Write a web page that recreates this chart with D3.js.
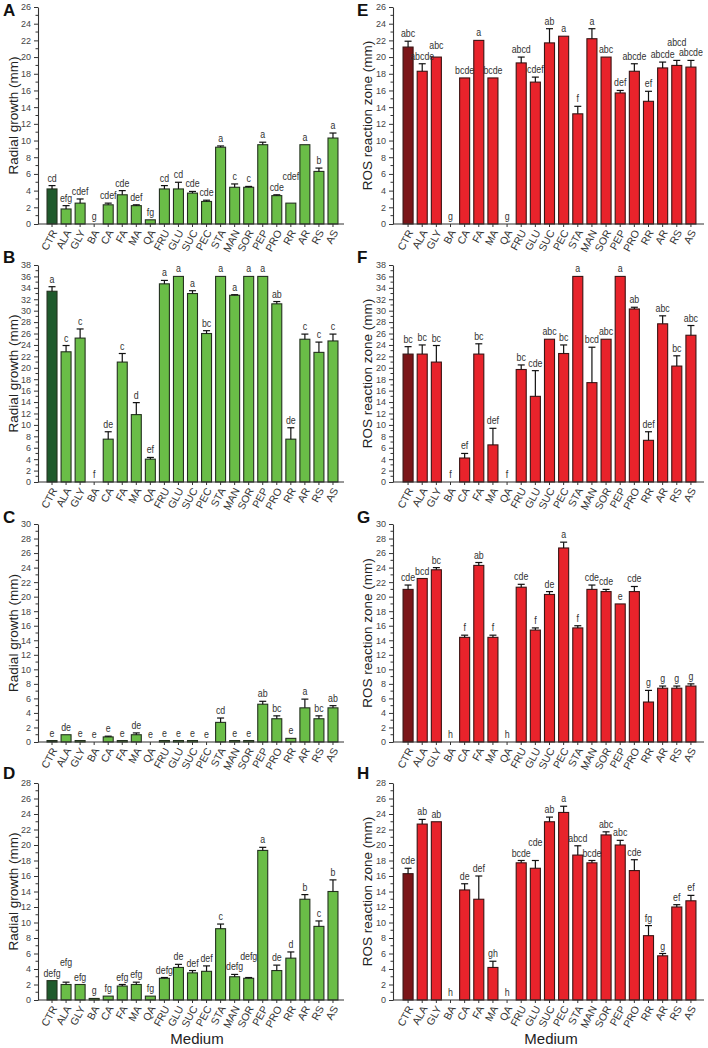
<!DOCTYPE html>
<html>
<head>
<meta charset="utf-8">
<script src="https://cdn.jsdelivr.net/npm/d3@7"></script>
<style>
html,body{margin:0;padding:0;background:#fff;}
svg{display:block;font-family:"Liberation Sans",Arial,Helvetica,sans-serif;}
</style>
</head>
<body>
<svg id="chart" width="708" height="1048"></svg>
<script>
const categories = ["CTR","ALA","GLY","BA","CA","FA","MA","QA","FRU","GLU","SUC","PEC","STA","MAN","SOR","PEP","PRO","RR","AR","RS","AS"];

// Panel A – radial growth
const valuesA = [4.2,1.8,2.5,0,2.3,3.5,2.2,0.5,4.2,4.2,3.7,2.7,9.2,4.4,4.4,9.5,3.4,2.5,9.5,6.3,10.3];
const errorsA = [4.6,2.2,3.0,0,2.5,4.0,2.3,0.5,4.6,5.0,3.9,2.85,9.35,4.8,4.5,9.8,3.5,2.5,9.5,6.7,10.9];
const lettersA = ["cd","efg","cdef","g","cdef","cde","def","fg","cd","cd","cde","cde","a","c","c","a","cde","cdef","a","b","a"];

// Panel B – radial growth
const valuesB = [33.4,22.8,25.2,0,7.5,21.0,11.8,4.0,34.7,36,33.0,26.0,36,32.7,36,36,31.2,7.5,25.0,22.7,24.7];
const errorsB = [34.2,23.9,26.8,0,8.8,22.5,13.9,4.3,35.3,36,33.5,26.5,36,32.8,36,36,31.6,9.5,25.9,24.5,25.9];
const lettersB = ["a","c","c","f","de","c","d","ef","a","a","a","bc","a","a","a","a","ab","de","c","c","c"];

// Panel C – radial growth
const valuesC = [0.2,1.0,0.2,0,0.7,0.2,1.0,0,0.2,0.2,0.2,0,2.7,0.2,0.2,5.2,3.2,0.5,4.7,3.2,4.7];
const errorsC = [0.2,1.0,0.2,0,0.8,0.2,1.25,0,0.2,0.2,0.2,0,3.3,0.2,0.2,5.6,3.6,0.5,5.9,3.6,5.0];
const lettersC = ["e","de","e","e","e","e","de","e","e","e","e","e","cd","e","e","ab","bc","e","a","bc","ab"];

// Panel D – radial growth
const valuesD = [2.5,2.0,2.0,0.2,0.5,1.8,2.0,0.5,2.8,4.2,3.5,3.7,9.2,3.0,2.8,19.3,3.8,5.4,13.0,9.5,14.0];
const errorsD = [2.5,2.3,2.0,0.2,0.5,2.0,2.3,0.5,2.9,4.6,3.8,4.4,9.8,3.3,2.9,19.7,4.5,6.2,13.6,10.2,15.5];
const lettersD = ["defg","efg","efg","g","fg","efg","efg","fg","defg","de","def","def","c","defg","defg","a","de","d","b","c","b"];

// Panel E – ROS reaction zone
const valuesE = [21.2,18.3,20.0,0,17.5,22.0,17.5,0,19.3,17.0,21.7,22.5,13.2,22.2,20.0,15.7,18.3,14.7,18.7,19.0,18.8];
const errorsE = [21.9,19.2,20.0,0,17.5,22.0,17.5,0,20.0,17.6,23.4,22.5,14.1,23.4,20.0,16.0,19.2,15.9,19.4,19.6,19.6];
const lettersE = ["abc","abcde","abc","g","bcde","a","bcde","g","abcd","cdef","ab","a","f","a","abc","def","abcde","ef","abcde","abcd","abcde"];

// Panel F – ROS reaction zone
const valuesF = [22.4,22.4,21.0,0,4.2,22.4,6.5,0,19.7,15.0,25.0,22.5,36,17.4,25.0,36,30.3,7.3,27.7,20.3,25.7];
const errorsF = [23.7,24.0,23.9,0,5.0,24.2,9.4,0,20.5,19.5,25.0,24.0,36,23.6,25.0,36,30.6,8.8,29.1,22.1,27.4];
const lettersF = ["bc","bc","bc","f","ef","bc","def","f","bc","cde","abc","bc","a","bcd","abc","a","ab","def","abc","bc","abc"];

// Panel G – ROS reaction zone
const valuesG = [21.0,22.5,23.7,0,14.4,24.3,14.4,0,21.3,15.4,20.3,26.7,15.7,21.0,20.7,19.0,20.7,5.5,7.4,7.4,7.7];
const errorsG = [21.6,22.5,24.0,0,14.7,24.7,14.7,0,21.7,15.7,20.7,27.5,16.0,21.6,21.0,19.0,21.4,7.1,7.7,7.7,8.0];
const lettersG = ["cde","bcd","bc","h","f","ab","f","h","cde","f","de","a","f","cde","cde","e","cde","g","g","g","g"];

// Panel H – ROS reaction zone
const valuesH = [16.3,22.7,23.0,0,14.2,13.0,4.2,0,17.7,17.0,23.0,24.2,18.7,17.7,21.3,20.0,16.7,8.3,5.7,12.0,12.8];
const errorsH = [17.0,23.3,23.0,0,15.0,16.0,5.0,0,18.0,18.0,23.6,25.0,19.9,18.0,21.7,20.6,18.1,9.6,6.0,12.3,13.5];
const lettersH = ["cde","ab","ab","h","de","def","gh","h","bcde","cde","ab","a","abcd","bcde","abc","abc","cde","fg","g","ef","ef"];

const panels = [
  {id:"A", v:valuesA, e:errorsA, l:lettersA, max:26, col:0, row:0, ros:false},
  {id:"B", v:valuesB, e:errorsB, l:lettersB, max:38, col:0, row:1, ros:false},
  {id:"C", v:valuesC, e:errorsC, l:lettersC, max:30, col:0, row:2, ros:false},
  {id:"D", v:valuesD, e:errorsD, l:lettersD, max:28, col:0, row:3, ros:false},
  {id:"E", v:valuesE, e:errorsE, l:lettersE, max:26, col:1, row:0, ros:true},
  {id:"F", v:valuesF, e:errorsF, l:lettersF, max:38, col:1, row:1, ros:true},
  {id:"G", v:valuesG, e:errorsG, l:lettersG, max:30, col:1, row:2, ros:true},
  {id:"H", v:valuesH, e:errorsH, l:lettersH, max:28, col:1, row:3, ros:true}
];

const svg = d3.select("#chart");
const colGeom = [
  {axisX:38, endX:344, bandL:45, bandR:340, titleX:14, letterX:3},
  {axisX:393, endX:704, bandL:401, bandR:698, titleX:368, letterX:357}
];
const rowGeom = [
  {top:7, bottom:224, letterY:16},
  {top:265, bottom:482, letterY:263},
  {top:524, bottom:742, letterY:523},
  {top:783, bottom:1000, letterY:779}
];
const SIG_SCALE = 0.8, SIG_SIZE = 11, SIG_LINE = 10.5;

panels.forEach(p => {
  const cg = colGeom[p.col], rg = rowGeom[p.row];
  const g = svg.append("g");
  const x = d3.scaleBand().domain(categories).range([cg.bandL, cg.bandR]).paddingInner(0.29).paddingOuter(0.145);
  const y = d3.scaleLinear().domain([0, p.max]).range([rg.bottom, rg.top]);
  const colDark = p.ros ? "#7b1518" : "#1f5a2c";
  const colLight = p.ros ? "#e8232b" : "#6abd47";
  const stroke = p.ros ? "#3b1414" : "#24321f";

  // bars
  g.selectAll("rect.bar").data(categories).join("rect")
    .attr("x", d => x(d))
    .attr("width", x.bandwidth())
    .attr("y", (d,i) => y(p.v[i]))
    .attr("height", (d,i) => y(0) - y(p.v[i]))
    .attr("fill", (d,i) => i === 0 ? colDark : colLight)
    .attr("stroke", stroke)
    .attr("stroke-width", (d,i) => p.v[i] > 0 ? 1.1 : 0);

  // error bars
  const eb = g.selectAll("g.err").data(categories).join("g")
    .filter((d,i) => p.e[i] > p.v[i] + 0.001);
  eb.append("line")
    .attr("x1", d => x(d) + x.bandwidth()/2)
    .attr("x2", d => x(d) + x.bandwidth()/2)
    .attr("y1", d => y(p.v[categories.indexOf(d)]))
    .attr("y2", d => y(p.e[categories.indexOf(d)]))
    .attr("stroke", "#111").attr("stroke-width", 1.2);
  eb.append("line")
    .attr("x1", d => x(d) + x.bandwidth()/2 - 3.5)
    .attr("x2", d => x(d) + x.bandwidth()/2 + 3.5)
    .attr("y1", d => y(p.e[categories.indexOf(d)]))
    .attr("y2", d => y(p.e[categories.indexOf(d)]))
    .attr("stroke", "#111").attr("stroke-width", 1.2);

  // significance letters (condensed); a label that would collide with its left neighbour is lifted
  const sig = g.selectAll("text.sig").data(categories).join("text")
    .attr("class","sig")
    .attr("text-anchor","middle")
    .attr("font-size", SIG_SIZE)
    .attr("fill", "#333")
    .text((d,i) => p.l[i]);
  const info = [];
  sig.each(function(d,i){
    info.push({
      cx: x(d) + x.bandwidth()/2,
      by: y(Math.max(p.e[i], p.v[i])) - 4,
      w: this.getComputedTextLength() * SIG_SCALE
    });
  });
  const hOv = (a,b) => Math.abs(a.cx - b.cx) < (a.w + b.w)/2 - 0.5;
  for (let i = 1; i < info.length; i++) {
    const cur = info[i], prv = info[i-1];
    if (hOv(cur, prv) && Math.abs(cur.by - prv.by) < SIG_LINE) {
      let ref = prv.by;
      const nxt = info[i+1];
      if (nxt && hOv(cur, nxt)) ref = Math.min(ref, nxt.by);
      cur.by = Math.min(cur.by, ref - SIG_LINE);
    }
  }
  sig.attr("transform", (d,i) => `translate(${info[i].cx},${info[i].by}) scale(${SIG_SCALE},1)`);

  // y axis
  const ticks = d3.range(0, p.max + 1, 2);
  const yAxis = d3.axisLeft(y).tickValues(ticks).tickSize(4).tickPadding(3).tickSizeOuter(0);
  const ya = g.append("g").attr("transform", `translate(${cg.axisX},0)`).call(yAxis);
  ya.select(".domain").attr("stroke","#333").attr("stroke-width",1.1);
  ya.selectAll(".tick line").attr("stroke","#333");
  ya.selectAll(".tick text").attr("font-size", 9).attr("fill","#444").attr("font-family","'Liberation Sans',Arial,sans-serif");
  // minor ticks
  const minor = d3.range(1, p.max, 2);
  g.append("g").selectAll("line").data(minor).join("line")
    .attr("x1", cg.axisX - 2.5).attr("x2", cg.axisX)
    .attr("y1", d => y(d)).attr("y2", d => y(d))
    .attr("stroke","#333").attr("stroke-width",1);

  // x axis
  const xAxis = d3.axisBottom(x).tickSize(3).tickSizeOuter(0).tickFormat("");
  const xa = g.append("g").attr("transform", `translate(0,${y(0)})`).call(xAxis);
  xa.select(".domain").remove();
  xa.selectAll(".tick line").attr("stroke","#333");
  g.append("line").attr("x1", cg.axisX).attr("x2", cg.endX)
    .attr("y1", y(0)).attr("y2", y(0)).attr("stroke","#333").attr("stroke-width",1.1);

  // rotated category labels
  g.selectAll("text.cat").data(categories).join("text")
    .attr("class","cat")
    .attr("transform", d => `translate(${x(d) + x.bandwidth()/2 + 3},${y(0) + 7}) rotate(-62)`)
    .attr("text-anchor","end")
    .attr("dominant-baseline","middle")
    .attr("font-size", 10.5)
    .attr("fill","#333")
    .text(d => d);

  // y title
  g.append("text")
    .attr("transform", `translate(${cg.titleX},${(rg.top + rg.bottom)/2}) rotate(-90)`)
    .attr("text-anchor","middle")
    .attr("dominant-baseline","middle")
    .attr("font-size", 13.5)
    .attr("fill","#222")
    .text(p.ros ? "ROS reaction zone (mm)" : "Radial growth (mm)");

  // panel letter
  g.append("text")
    .attr("x", cg.letterX).attr("y", rg.letterY)
    .attr("font-size", 17).attr("font-weight","bold").attr("fill","#111")
    .text(p.id);
});

// x titles
[{x:197},{x:551}].forEach(o => {
  svg.append("text").attr("x", o.x).attr("y", 1044)
    .attr("text-anchor","middle").attr("font-size", 15).attr("fill","#222")
    .text("Medium");
});
</script>
</body>
</html>
